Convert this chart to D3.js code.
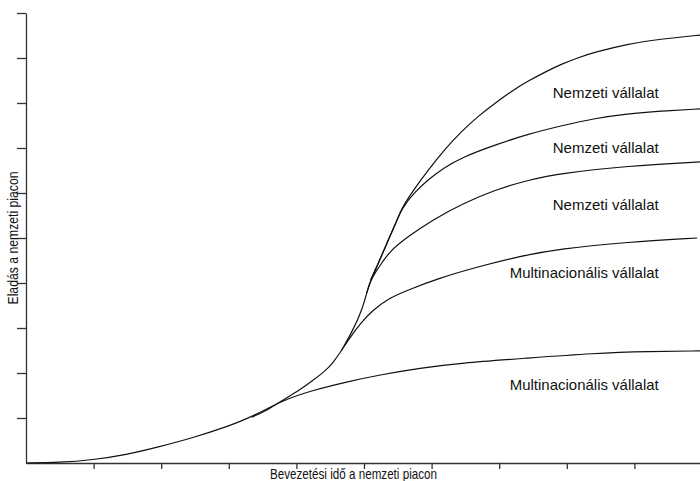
<!DOCTYPE html>
<html>
<head>
<meta charset="utf-8">
<script src="https://cdn.jsdelivr.net/npm/d3@7"></script>
<style>
  body { margin: 0; background: #fff; }
  svg { display: block; font-family: "Liberation Sans", Arial, sans-serif; }
</style>
</head>
<body>
<svg id="chart"></svg>
<script>
// idő (x) es eladas (y), mindkettő 0..10 skalan
var baseTime  = [0, 0.49, 0.99, 1.48, 1.97, 2.47, 2.96, 3.34, 3.8, 4.25, 4.79, 5.24, 5.83, 6.42, 7.41, 8.39, 9.23, 9.97];
var baseSales = [0, 0.01, 0.07, 0.18, 0.36, 0.56, 0.8, 1.02, 1.4, 1.62, 1.82, 1.96, 2.11, 2.22, 2.33, 2.44, 2.48, 2.49];

var growthTime  = [3.34, 3.58, 3.8, 4.05, 4.25, 4.42, 4.54, 4.67];
var growthSales = [1.02, 1.18, 1.4, 1.62, 1.84, 2.04, 2.22, 2.51];

var multiTime  = [4.67, 4.79, 4.94, 5.13, 5.38, 5.64, 6.12, 6.61, 7.31, 7.9, 8.89, 9.93];
var multiSales = [2.51, 2.78, 3.09, 3.4, 3.67, 3.84, 4.11, 4.33, 4.6, 4.76, 4.91, 5.0];

var steepTime  = [4.67, 4.84, 4.97, 5.04, 5.1, 5.18];
var steepSales = [2.51, 2.96, 3.4, 3.78, 4.07, 4.33];

var nemzeti3Time  = [5.04, 5.1, 5.21, 5.38, 5.64, 6.01, 6.45, 6.94, 7.43, 7.93, 8.89, 9.97];
var nemzeti3Sales = [3.78, 4.07, 4.33, 4.71, 5.02, 5.4, 5.76, 6.07, 6.29, 6.44, 6.6, 6.69];

var nemzeti2Time  = [5.1, 5.18, 5.34, 5.46, 5.56, 5.75, 5.95, 6.2, 6.45, 6.94, 7.43, 7.93, 8.42, 8.89, 9.38, 9.97];
var nemzeti2Sales = [4.07, 4.33, 4.89, 5.29, 5.67, 6.02, 6.3, 6.58, 6.79, 7.07, 7.31, 7.5, 7.66, 7.76, 7.82, 7.87];

var nemzeti1Time  = [5.1, 5.18, 5.34, 5.46, 5.56, 5.71, 5.95, 6.2, 6.45, 6.69, 6.94, 7.19, 7.43, 7.68, 7.93, 8.17, 8.42, 8.89, 9.38, 9.97];
var nemzeti1Sales = [4.07, 4.33, 4.89, 5.29, 5.67, 6.02, 6.51, 6.98, 7.38, 7.71, 8.0, 8.27, 8.49, 8.69, 8.87, 9.01, 9.13, 9.31, 9.42, 9.51];

// feliratok
var labelText  = ["Nemzeti vállalat", "Nemzeti vállalat", "Nemzeti vállalat", "Multinacionális vállalat", "Multinacionális vállalat"];
var labelSales = [8.11, 6.89, 5.62, 4.11, 1.62];
var labelTime  = 9.36;

var xTicks = [1, 2, 3, 4, 5, 6, 7, 8, 9];
var yTicks = [1, 2, 3, 4, 5, 6, 7, 8, 9, 10];

var svgWidth = 700;
var svgHeight = 481;

var svg = d3.select('#chart')
  .attr("width", svgWidth)
  .attr("height", svgHeight);

var x = d3.scaleLinear().domain([0, 10]).range([26, 702]);
var y = d3.scaleLinear().domain([0, 10]).range([463, 13]);

// tengelyek
svg.append("g")
  .attr("transform", "translate(0,463)")
  .call(d3.axisBottom(x).tickValues(xTicks).tickSize(6).tickSizeOuter(0).tickFormat(""));

svg.append("g")
  .attr("transform", "translate(26,0)")
  .call(d3.axisLeft(y).tickValues(yTicks).tickSize(9).tickSizeOuter(0).tickFormat(""));

svg.selectAll(".domain, .tick line")
  .attr("stroke", "#333")
  .attr("stroke-width", 1.3);

// görbék (simitva)
var line = d3.line()
  .x(function (d) { return x(d[0]); })
  .y(function (d) { return y(d[1]); })
  .curve(d3.curveBasis);

var curves = [
  [baseTime, baseSales],
  [growthTime, growthSales],
  [multiTime, multiSales],
  [steepTime, steepSales],
  [nemzeti3Time, nemzeti3Sales],
  [nemzeti2Time, nemzeti2Sales],
  [nemzeti1Time, nemzeti1Sales]
];

svg.selectAll("path.curve")
  .data(curves)
  .enter()
  .append("path")
  .attr("class", "curve")
  .attr("fill", "none")
  .attr("stroke", "#111")
  .attr("stroke-width", 1.2)
  .attr("d", function (c) {
    return line(d3.zip(c[0], c[1]));
  });

svg.selectAll("text.label")
  .data(labelText)
  .enter()
  .append("text")
  .attr("class", "label")
  .attr("x", x(labelTime))
  .attr("y", function (d, i) { return y(labelSales[i]); })
  .attr("text-anchor", "end")
  .attr("font-size", 15)
  .attr("textLength", function (d) { return d.length > 16 ? 149 : 106; })
  .attr("lengthAdjust", "spacingAndGlyphs")
  .attr("fill", "#111")
  .text(function (d) { return d; });

// tengelyfeliratok
svg.append("text")
  .attr("x", 353.5)
  .attr("y", 479)
  .attr("text-anchor", "middle")
  .attr("font-size", 15)
  .attr("textLength", 167)
  .attr("lengthAdjust", "spacingAndGlyphs")
  .attr("fill", "#111")
  .text("Bevezetési idő a nemzeti piacon");

svg.append("text")
  .attr("transform", "translate(18,238) rotate(-90)")
  .attr("text-anchor", "middle")
  .attr("font-size", 15)
  .attr("textLength", 133)
  .attr("lengthAdjust", "spacingAndGlyphs")
  .attr("fill", "#111")
  .text("Eladás a nemzeti piacon");
</script>
</body>
</html>
